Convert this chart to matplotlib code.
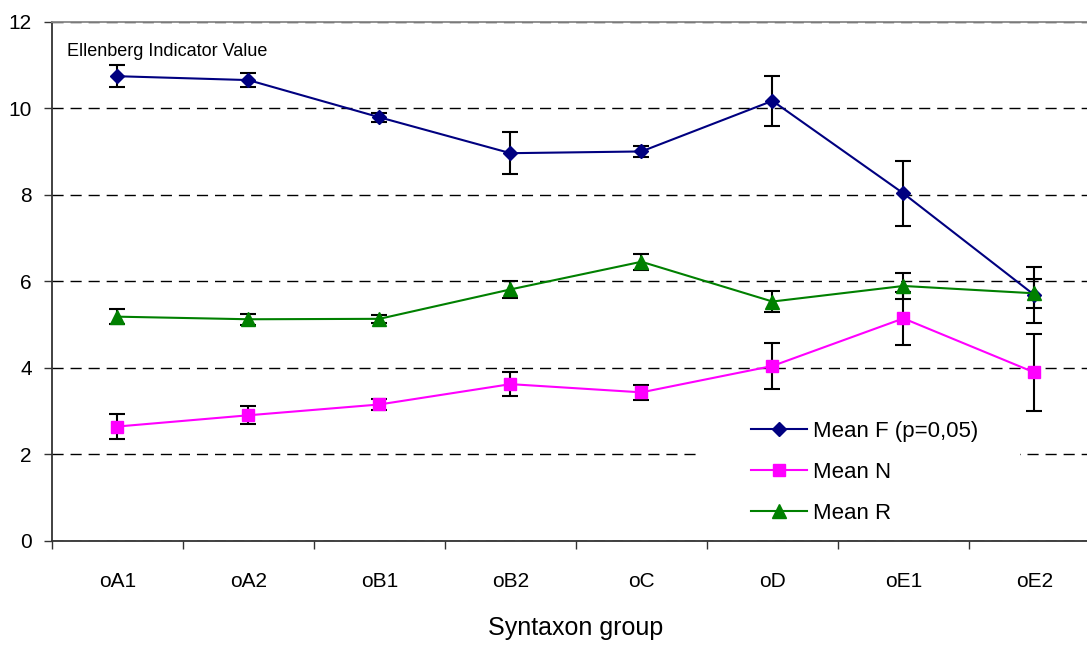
import matplotlib
matplotlib.use('Agg')
import matplotlib.pyplot as plt
from matplotlib.patches import Rectangle
import numpy as np

plt.rcParams['font.family'] = ['Liberation Sans', 'DejaVu Sans']

groups = ['oA1', 'oA2', 'oB1', 'oB2', 'oC', 'oD', 'oE1', 'oE2']
mean_f = [10.74, 10.65, 9.79, 8.96, 9.00, 10.17, 8.03, 5.68]
err_f = [0.26, 0.17, 0.10, 0.49, 0.13, 0.57, 0.76, 0.64]
mean_n = [2.64, 2.90, 3.15, 3.62, 3.43, 4.04, 5.14, 3.89]
err_n = [0.30, 0.21, 0.12, 0.27, 0.18, 0.53, 0.62, 0.90]
mean_r = [5.18, 5.12, 5.13, 5.81, 6.45, 5.53, 5.89, 5.72]
err_r = [0.17, 0.13, 0.09, 0.20, 0.19, 0.25, 0.30, 0.33]

x = np.arange(len(groups))

fig = plt.figure(figsize=(10.87, 6.46), dpi=100)
# plot area runs a little past the right edge of the image, like the original
ax = fig.add_axes([0.0478, 0.163, 0.9641, 0.8034])

# error bars first so markers sit on top
for m, e in [(mean_f, err_f), (mean_n, err_n), (mean_r, err_r)]:
    ax.errorbar(x, m, yerr=e, fmt='none', ecolor='black', elinewidth=1.5,
                capsize=5.5, capthick=1.5, zorder=3)

ax.plot(x, mean_f, color='#000080', lw=1.5, marker='D', ms=6.8,
        label='Mean F (p=0,05)', zorder=4)
ax.plot(x, mean_n, color='#FF00FF', lw=1.5, marker='s', ms=8.5,
        label='Mean N', zorder=4)
ax.plot(x, mean_r, color='#008000', lw=1.5, marker='^', ms=9.5,
        label='Mean R', zorder=4)

ax.set_xlim(-0.5, 7.5)
ax.set_ylim(0, 12)
ax.set_yticks(np.arange(0, 13, 2))
ax.set_axisbelow(True)
ax.yaxis.grid(True, color='black', lw=1, linestyle=(0, (8, 5)))

ax.set_xticks(np.arange(-0.5, 8, 1))
ax.set_xticklabels([])
ax.set_xticks(x, minor=True)
ax.set_xticklabels(groups, minor=True)
ax.tick_params(axis='x', which='major', direction='out', length=6, width=1, color='#333333')
ax.tick_params(axis='x', which='minor', length=0, pad=22.5, labelsize=15)
ax.tick_params(axis='y', direction='out', length=6, width=1, color='#333333', pad=8.5, labelsize=15)

ax.spines['left'].set_color('#333333')
ax.spines['bottom'].set_color('#333333')
ax.spines['left'].set_linewidth(1.3)
ax.spines['bottom'].set_linewidth(1.3)
ax.spines['top'].set_color('#888888')
ax.spines['top'].set_linewidth(1.3)
ax.spines['right'].set_color('#888888')

ax.set_xlabel('Syntaxon group', fontsize=18, labelpad=18)
ax.text(-0.385, 11.3, 'Ellenberg Indicator Value', fontsize=13, va='center', ha='left')

# white legend area that blanks out the gridline
ax.add_patch(Rectangle((0.618, 0.04), 0.306, 0.23, transform=ax.transAxes,
                       facecolor='white', edgecolor='none', zorder=1))
ax.legend(loc='upper left', bbox_to_anchor=(0.667, 0.2306), frameon=False,
          fontsize=16, handlelength=2.5, handletextpad=0.28, labelspacing=0.89,
          borderpad=0, borderaxespad=0)

fig.savefig('out.png', dpi=100)
